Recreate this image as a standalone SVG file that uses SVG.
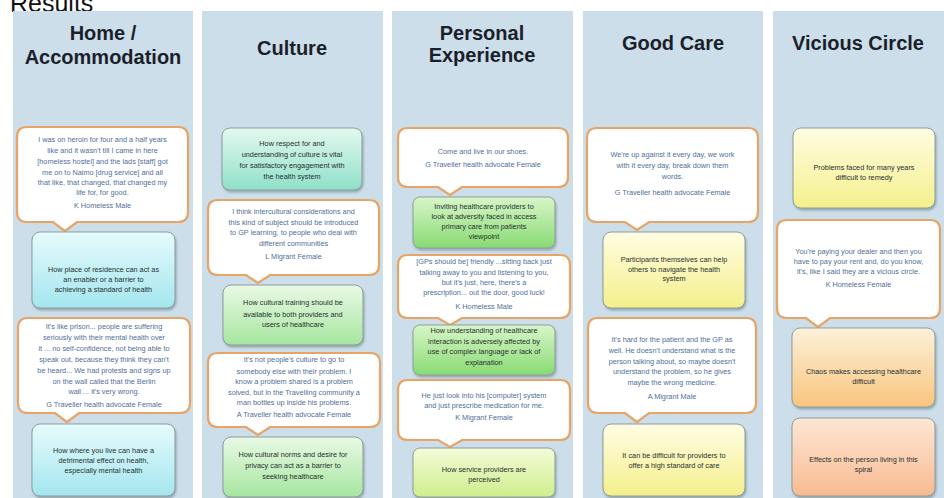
<svg xmlns="http://www.w3.org/2000/svg" width="944" height="498" viewBox="0 0 944 498">
<style>
.panel{fill:#cbdee9}
.title{font-family:"Liberation Sans",Arial,sans-serif;font-weight:bold;font-size:20px;fill:#1c1f2b;text-anchor:middle}
.res{font-family:"Liberation Sans",Arial,sans-serif;font-size:25px;fill:#111}
.call{fill:#fff;stroke:#e8a466;stroke-width:2.2}
.callin{fill:none;stroke:#f9dcc0;stroke-width:1.5}
.q{font-family:"Liberation Sans",Arial,sans-serif;font-size:7.3px;fill:#4f6f99;text-anchor:middle}
.box{stroke:#8e9d9c;stroke-width:1;filter:url(#sh)}
.t{font-family:"Liberation Sans",Arial,sans-serif;font-size:7.3px;fill:#26302f;text-anchor:middle}
</style>
<defs>
<filter id="sh" x="-10%" y="-10%" width="120%" height="130%"><feDropShadow dx="1" dy="2" stdDeviation="1.2" flood-color="#55606a" flood-opacity="0.45"/></filter>
<linearGradient id="gCyan" x1="0" y1="0" x2="0" y2="1"><stop offset="0" stop-color="#e6fbfd"/><stop offset="1" stop-color="#a3e6ee"/></linearGradient>
<linearGradient id="gTeal" x1="0" y1="0" x2="0" y2="1"><stop offset="0" stop-color="#e3f8ef"/><stop offset="1" stop-color="#8fe0c8"/></linearGradient>
<linearGradient id="gLGreen" x1="0" y1="0" x2="0" y2="1"><stop offset="0" stop-color="#e9f9e4"/><stop offset="1" stop-color="#a6e6a0"/></linearGradient>
<linearGradient id="gGreen" x1="0" y1="0" x2="0" y2="1"><stop offset="0" stop-color="#d8f6c9"/><stop offset="1" stop-color="#88da73"/></linearGradient>
<linearGradient id="gYG" x1="0" y1="0" x2="0" y2="1"><stop offset="0" stop-color="#f4fbd8"/><stop offset="1" stop-color="#cdee8c"/></linearGradient>
<linearGradient id="gYel" x1="0" y1="0" x2="0" y2="1"><stop offset="0" stop-color="#fffde3"/><stop offset="1" stop-color="#f4ef8c"/></linearGradient>
<linearGradient id="gOr" x1="0" y1="0" x2="0" y2="1"><stop offset="0" stop-color="#fdf1da"/><stop offset="1" stop-color="#f8c57e"/></linearGradient>
<linearGradient id="gPeach" x1="0" y1="0" x2="0" y2="1"><stop offset="0" stop-color="#fde7d6"/><stop offset="1" stop-color="#f8ba90"/></linearGradient>
</defs>
<rect width="944" height="498" fill="#fff"/>
<text class="res" x="10" y="12">Results</text>
<g id="panels">
<rect class="panel" x="13" y="11" width="180" height="487"/>
<rect class="panel" x="202" y="11" width="181" height="487"/>
<rect class="panel" x="392" y="11" width="181" height="487"/>
<rect class="panel" x="583" y="11" width="180" height="487"/>
<rect class="panel" x="773" y="11" width="171" height="487"/>
</g>
<g id="titles">
<text class="title" x="103" y="40">Home /</text>
<text class="title" x="103" y="64">Accommodation</text>
<text class="title" x="292" y="55">Culture</text>
<text class="title" x="482" y="40">Personal</text>
<text class="title" x="482" y="62">Experience</text>
<text class="title" x="673" y="50">Good Care</text>
<text class="title" x="858" y="50">Vicious Circle</text>
</g>
<g id="connectors"></g>

<!-- Column 1 -->
<g id="c1q1">
<path class="call" d="M27,127H178Q188,127 188,137V212Q188,222 178,222H77L65,231L53,222H27Q17,222 17,212V137Q17,127 27,127Z"/>
<text class="q" x="102.5" y="142">I was on heroin for four and a half years</text>
<text class="q" x="102.5" y="153">like and it wasn't till I came in here</text>
<text class="q" x="102.5" y="164">[homeless hostel] and the lads [staff] got</text>
<text class="q" x="102.5" y="175">me on to Naimo [drug service] and all</text>
<text class="q" x="102.5" y="185">that like, that changed, that changed my</text>
<text class="q" x="102.5" y="195">life for, for good.</text>
<text class="q" x="102.5" y="208">K Homeless Male</text>
</g>
<g id="c1b1">
<rect class="box" x="32" y="232" width="143" height="76" rx="8" fill="url(#gCyan)"/>
<text class="t" x="103.5" y="272">How place of residence can act as</text>
<text class="t" x="103.5" y="282">an enabler or a barrier to</text>
<text class="t" x="103.5" y="292">achieving a standard of health</text>
</g>
<g id="c1q2">
<path class="call" d="M28,318H180Q190,318 190,328V403Q190,413 180,413H79L67,422L55,413H28Q18,413 18,403V328Q18,318 28,318Z"/>
<text class="q" x="104" y="329">It's like prison... people are suffering</text>
<text class="q" x="104" y="340">seriously with their mental health over</text>
<text class="q" x="104" y="351">it ... no self-confidence, not being able to</text>
<text class="q" x="104" y="362">speak out, because they think they can't</text>
<text class="q" x="104" y="373">be heard... We had protests and signs up</text>
<text class="q" x="104" y="384">on the wall called that the Berlin</text>
<text class="q" x="104" y="394">wall ... it's very wrong.</text>
<text class="q" x="104" y="407">G Traveller health advocate Female</text>
</g>
<g id="c1b2">
<rect class="box" x="32" y="424" width="143" height="72" rx="8" fill="url(#gCyan)"/>
<text class="t" x="103.5" y="453">How where you live can have a</text>
<text class="t" x="103.5" y="463">detrimental effect on health,</text>
<text class="t" x="103.5" y="473">especially mental health</text>
</g>

<!-- Column 2 -->
<g id="c2b1">
<rect class="box" x="222" y="128" width="140" height="62" rx="8" fill="url(#gTeal)"/>
<text class="t" x="292" y="146">How respect for and</text>
<text class="t" x="292" y="157">understanding of culture is vital</text>
<text class="t" x="292" y="168">for satisfactory engagement with</text>
<text class="t" x="292" y="179">the health system</text>
</g>
<g id="c2q1">
<path class="call" d="M218,200H369Q379,200 379,210V265Q379,275 369,275H270L258,283L246,275H218Q208,275 208,265V210Q208,200 218,200Z"/>
<text class="q" x="293.5" y="214">I think intercultural considerations and</text>
<text class="q" x="293.5" y="225">this kind of subject should be introduced</text>
<text class="q" x="293.5" y="235">to GP learning, to people who deal with</text>
<text class="q" x="293.5" y="246">different communities</text>
<text class="q" x="293.5" y="259">L Migrant Female</text>
</g>
<g id="c2b2">
<rect class="box" x="223" y="285" width="140" height="60" rx="8" fill="url(#gLGreen)"/>
<text class="t" x="293" y="305">How cultural training should be</text>
<text class="t" x="293" y="317">available to both providers and</text>
<text class="t" x="293" y="327">users of healthcare</text>
</g>
<g id="c2q2">
<path class="call" d="M218,353H370Q380,353 380,363V417Q380,427 370,427H270L258,435L246,427H218Q208,427 208,417V363Q208,353 218,353Z"/>
<text class="q" x="294" y="362">It's not people's culture to go to</text>
<text class="q" x="294" y="374">somebody else with their problem. I</text>
<text class="q" x="294" y="384">know a problem shared is a problem</text>
<text class="q" x="294" y="395">solved, but in the Travelling community a</text>
<text class="q" x="294" y="405">man bottles up inside his problems.</text>
<text class="q" x="294" y="417">A Traveller health advocate Female</text>
</g>
<g id="c2b3">
<rect class="box" x="223" y="437" width="140" height="60" rx="8" fill="url(#gLGreen)"/>
<text class="t" x="293" y="457">How cultural norms and desire for</text>
<text class="t" x="293" y="468">privacy can act as a barrier to</text>
<text class="t" x="293" y="479">seeking healthcare</text>
</g>

<!-- Column 3 -->
<g id="c3q1">
<path class="call" d="M408,128H558Q568,128 568,138V177Q568,187 558,187H462L450,195L438,187H408Q398,187 398,177V138Q398,128 408,128Z"/>
<text class="q" x="483" y="154">Come and live in our shoes.</text>
<text class="q" x="483" y="167">G Traveller health advocate Female</text>
</g>
<g id="c3b1">
<rect class="box" x="413" y="197" width="142" height="51" rx="7" fill="url(#gGreen)"/>
<text class="t" x="484" y="209">Inviting healthcare providers to</text>
<text class="t" x="484" y="219">look at adversity faced in access</text>
<text class="t" x="484" y="229">primary care from patients</text>
<text class="t" x="484" y="239">viewpoint</text>
</g>
<g id="c3q2">
<path class="call" d="M408,255H560Q570,255 570,265V308Q570,318 560,318H462L450,325L438,318H408Q398,318 398,308V265Q398,255 408,255Z"/>
<text class="q" x="484" y="264">[GPs should be] friendly ...sitting back just</text>
<text class="q" x="484" y="275">talking away to you and listening to you,</text>
<text class="q" x="484" y="285">but it's just, here, there's a</text>
<text class="q" x="484" y="295">prescription... out the door, good luck!</text>
<text class="q" x="484" y="309">K Homeless Male</text>
</g>
<g id="c3b2">
<rect class="box" x="413" y="325" width="142" height="50" rx="7" fill="url(#gGreen)"/>
<text class="t" x="484" y="333">How understanding of healthcare</text>
<text class="t" x="484" y="344">interaction is adversely affected by</text>
<text class="t" x="484" y="354">use of complex language or lack of</text>
<text class="t" x="484" y="365">explanation</text>
</g>
<g id="c3q3">
<path class="call" d="M408,380H560Q570,380 570,390V430Q570,440 560,440H462L450,447L438,440H408Q398,440 398,430V390Q398,380 408,380Z"/>
<text class="q" x="484" y="398">He just look into his [computer] system</text>
<text class="q" x="484" y="408">and just prescribe medication for me.</text>
<text class="q" x="484" y="420">K Migrant Female</text>
</g>
<g id="c3b3">
<rect class="box" x="413" y="448" width="142" height="49" rx="7" fill="url(#gYG)"/>
<text class="t" x="484" y="472">How service providers are</text>
<text class="t" x="484" y="482">perceived</text>
</g>

<!-- Column 4 -->
<g id="c4q1">
<path class="call" d="M597,128H748Q758,128 758,138V212Q758,222 748,222H649L637,230L625,222H597Q587,222 587,212V138Q587,128 597,128Z"/>
<text class="q" x="672.5" y="157">We're up against it every day, we work</text>
<text class="q" x="672.5" y="168">with it every day, break down them</text>
<text class="q" x="672.5" y="179">words.</text>
<text class="q" x="672.5" y="195">G Traveller health advocate Female</text>
</g>
<g id="c4b1">
<rect class="box" x="603" y="232" width="142" height="76" rx="8" fill="url(#gYel)"/>
<text class="t" x="674" y="262">Participants themselves can help</text>
<text class="t" x="674" y="272">others to navigate the health</text>
<text class="t" x="674" y="281">system</text>
</g>
<g id="c4q2">
<path class="call" d="M598,318H746Q756,318 756,328V403Q756,413 746,413H649L637,422L625,413H598Q588,413 588,403V328Q588,318 598,318Z"/>
<text class="q" x="672" y="342">It's hard for the patient and the GP as</text>
<text class="q" x="672" y="353">well. He doesn't understand what is the</text>
<text class="q" x="672" y="364">person talking about, so maybe doesn't</text>
<text class="q" x="672" y="374">understand the problem, so he gives</text>
<text class="q" x="672" y="385">maybe the wrong medicine.</text>
<text class="q" x="672" y="399">A Migrant Male</text>
</g>
<g id="c4b2">
<rect class="box" x="603" y="424" width="142" height="72" rx="8" fill="url(#gYel)"/>
<text class="t" x="674" y="458">It can be difficult for providers to</text>
<text class="t" x="674" y="468">offer a high standard of care</text>
</g>

<!-- Column 5 -->
<g id="c5b1">
<rect class="box" x="793" y="128" width="142" height="80" rx="8" fill="url(#gYel)"/>
<text class="t" x="864" y="170">Problems faced for many years</text>
<text class="t" x="864" y="180">difficult to remedy</text>
</g>
<g id="c5q1">
<path class="call" d="M787,220H930Q940,220 940,230V308Q940,318 930,318H830L818,327L806,318H787Q777,318 777,308V230Q777,220 787,220Z"/>
<text class="q" x="858.5" y="254">You're paying your dealer and then you</text>
<text class="q" x="858.5" y="264">have to pay your rent and, do you know,</text>
<text class="q" x="858.5" y="274">it's, like I said they are a vicious circle.</text>
<text class="q" x="858.5" y="287">K Homeless Female</text>
</g>
<g id="c5b2">
<rect class="box" x="792" y="328" width="143" height="79" rx="8" fill="url(#gOr)"/>
<text class="t" x="863.5" y="374">Chaos makes accessing healthcare</text>
<text class="t" x="863.5" y="384">difficult</text>
</g>
<g id="c5b3">
<rect class="box" x="792" y="418" width="143" height="78" rx="8" fill="url(#gPeach)"/>
<text class="t" x="863.5" y="462">Effects on the person living in this</text>
<text class="t" x="863.5" y="472">spiral</text>
</g>
</svg>
